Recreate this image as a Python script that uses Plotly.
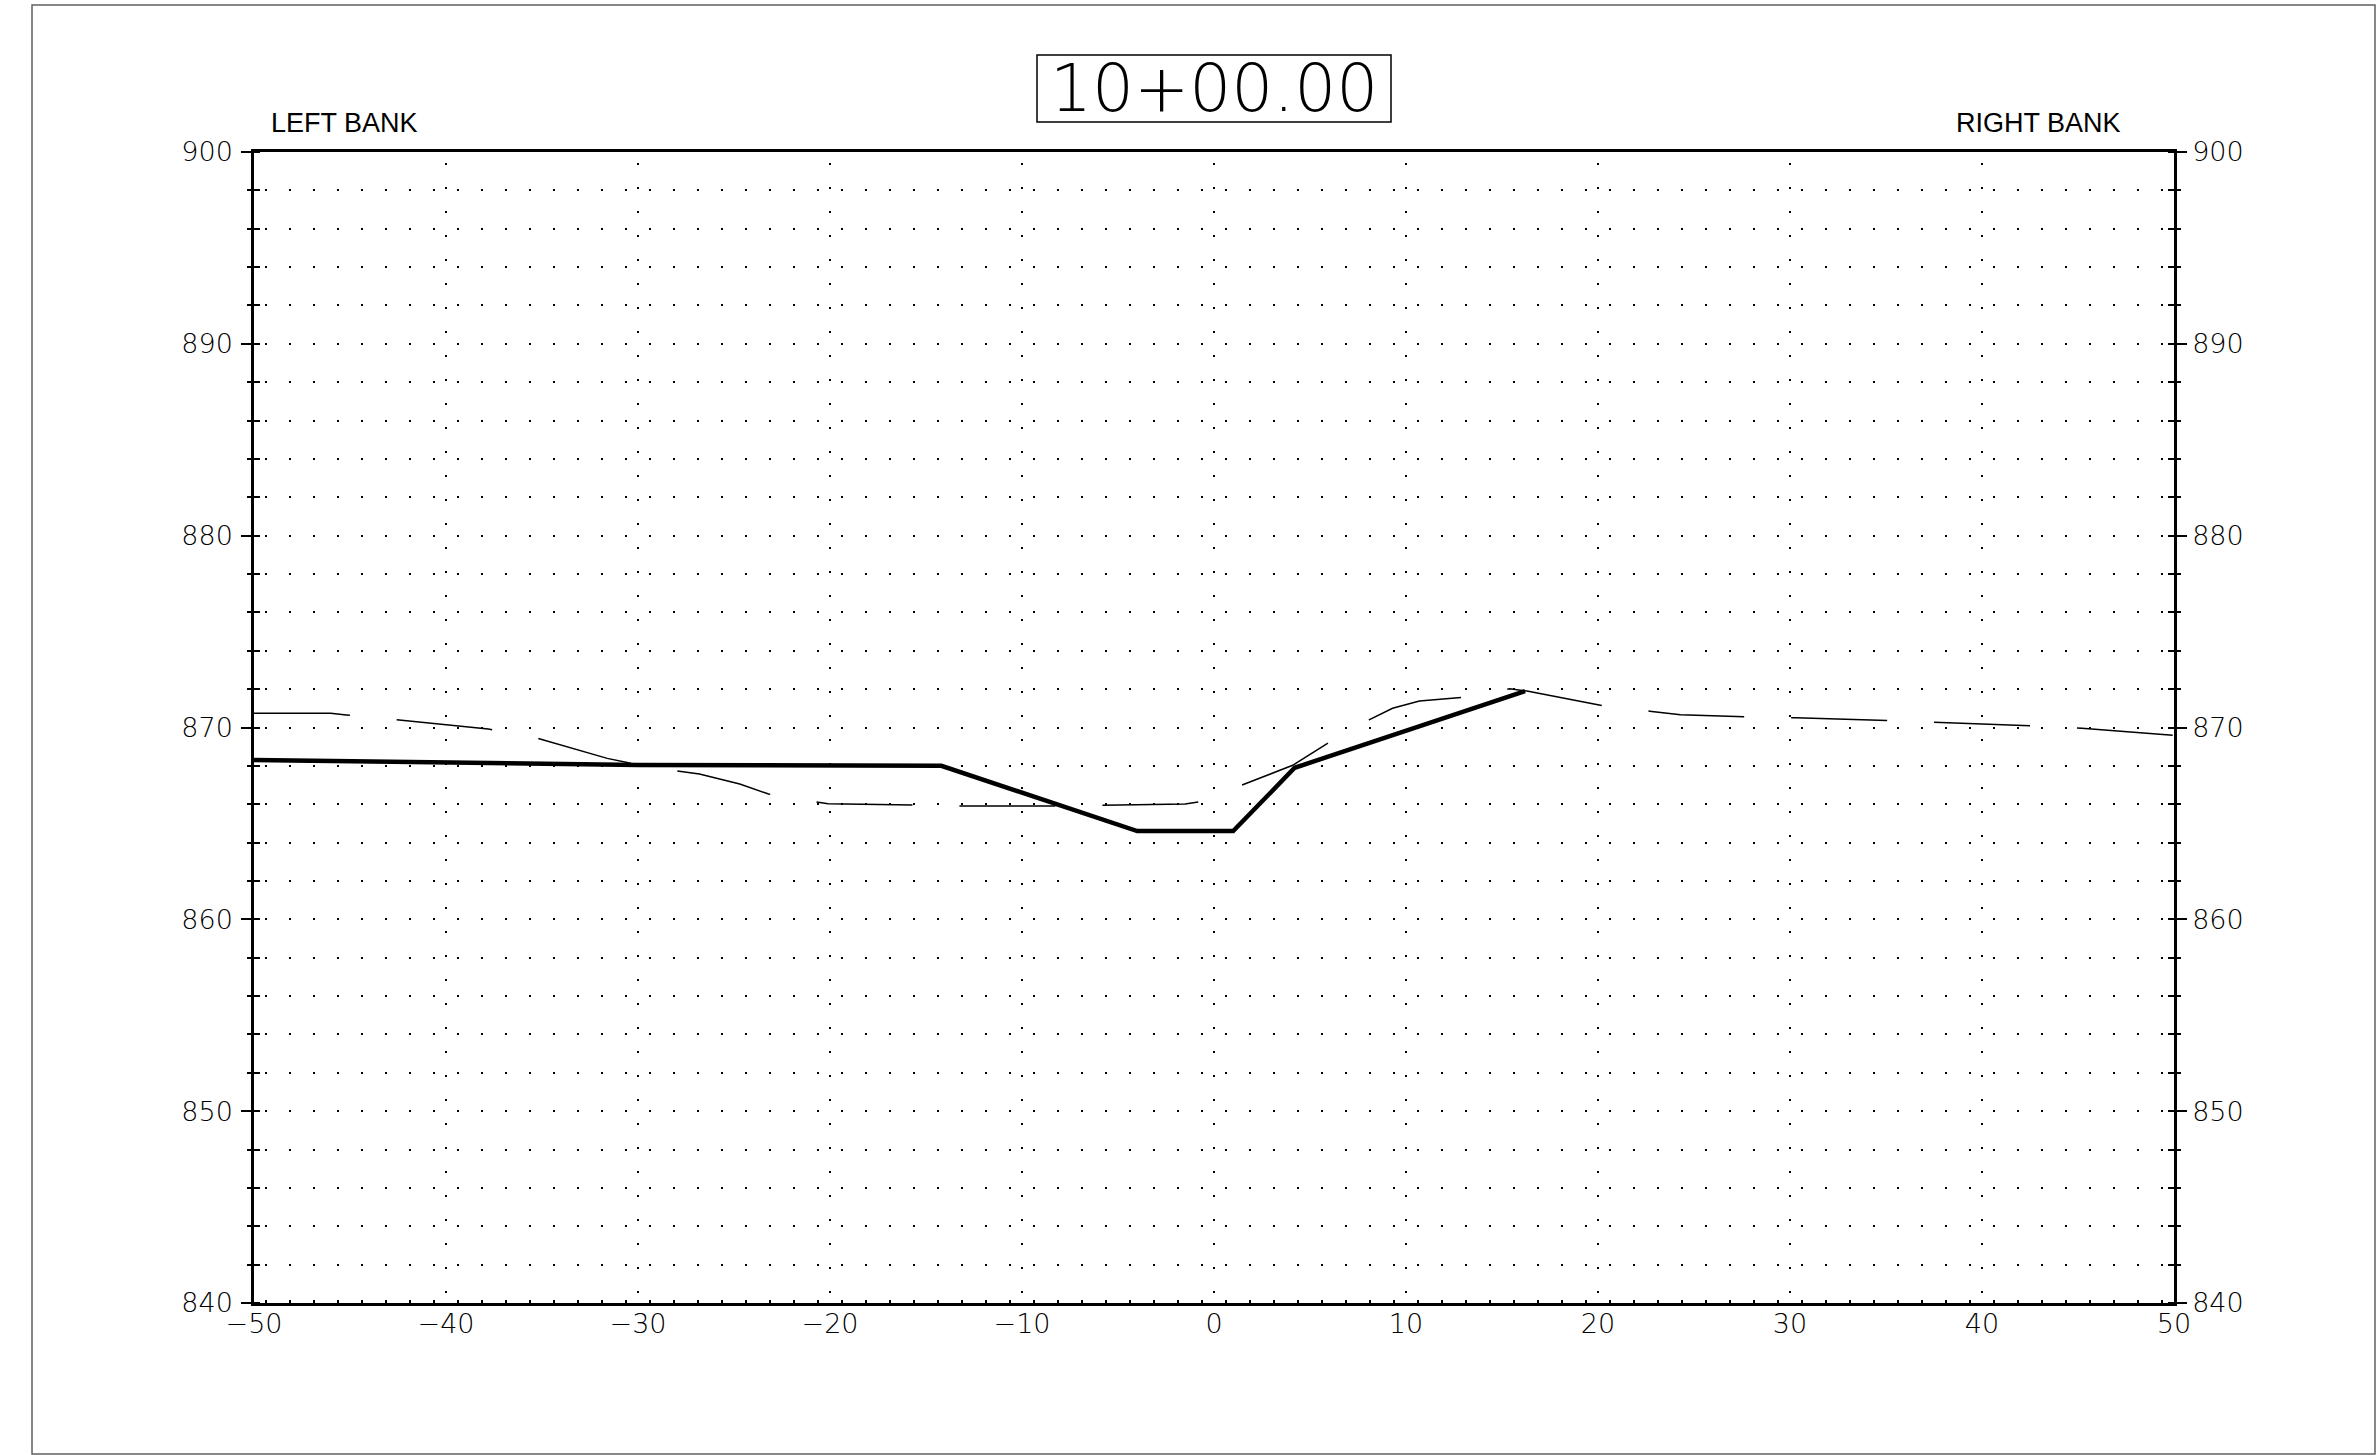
import plotly.graph_objects as go

# ---- data ----
station_label = "10+00.00"
left_label = "LEFT BANK"
right_label = "RIGHT BANK"

# proposed section (thick solid)
prop_x = [-50, -30, -14.2, -4.0, 1.0, 4.2, 16.2]
prop_y = [868.3, 868.05, 868.0, 864.6, 864.6, 867.9, 871.9]

# existing ground (thin long-dash)
exist_x = [-50, -46.0, -45.2, -42.8, -37.8, -35.4, -31.6, -30.5, -28.1, -26.8,
           -24.7, -23.2, -20.7, -20.1, -15.7, -13.3, -8.3, -5.8, -1.5, -0.8,
           1.5, 4.1, 6.0, 8.1, 9.3, 10.7, 12.9, 15.4, 16.3, 20.2,
           22.8, 24.3, 27.8, 30.3, 35.3, 37.8, 42.8, 45.2, 50]
exist_y = [870.74, 870.74, 870.65, 870.43, 869.92, 869.49, 868.39, 868.16, 867.75, 867.58,
           867.05, 866.53, 866.12, 866.03, 865.96, 865.91, 865.91, 865.94, 866.01, 866.12,
           867.02, 868.03, 869.23, 870.41, 871.0, 871.38, 871.57, 872.02, 871.9, 871.15,
           870.84, 870.67, 870.56, 870.51, 870.36, 870.27, 870.08, 869.96, 869.59]

x_range = [-50, 50]
y_range = [840, 900]

# ---- layout geometry (pixels) ----
W, H = 2379, 1455
L, R, T, B = 254, 2174, 152, 1303
PW, PH = R - L, B - T


def px(xp):
    return (xp - L) / PW


def py(yp):
    return (B - yp) / PH


TICK_FONT = dict(family="DejaVu Sans", size=27, color="black", weight=200)
DOTS = "0px,11px,2px,11px"

fig = go.Figure()

fig.add_trace(go.Scatter(
    x=exist_x, y=exist_y, mode="lines", yaxis="y",
    line=dict(color="black", width=1.5, dash="96px,47px"),
    hoverinfo="skip", showlegend=False))

fig.add_trace(go.Scatter(
    x=prop_x, y=prop_y, mode="lines", yaxis="y2",
    line=dict(color="black", width=4.5),
    hoverinfo="skip", showlegend=False))

# empty traces so that the tick-only overlay axes are drawn
fig.add_trace(go.Scatter(x=[], y=[], yaxis="y3", hoverinfo="skip", showlegend=False))
fig.add_trace(go.Scatter(x=[], y=[], yaxis="y4", hoverinfo="skip", showlegend=False))

fig.update_layout(
    width=W, height=H,
    margin=dict(l=L, r=W - R, t=T, b=H - B, pad=0),
    paper_bgcolor="white", plot_bgcolor="white",
    showlegend=False, hovermode=False,
    xaxis=dict(
        range=x_range, tick0=-50, dtick=10, showgrid=True,
        gridcolor="black", gridwidth=2, griddash=DOTS,
        showline=True, linecolor="black", linewidth=2.5, mirror=True,
        ticks="", tickfont=TICK_FONT, zeroline=False, ticklabelstandoff=-5,
        minor=dict(tick0=-48.125, dtick=1.25, ticks="inside", ticklen=3,
                   tickwidth=2, tickcolor="black", showgrid=False),
    ),
    yaxis=dict(
        range=y_range, tick0=840, dtick=10, side="left",
        showgrid=True, gridcolor="black", gridwidth=2, griddash=DOTS,
        showline=True, linecolor="black", linewidth=2.5,
        ticks="outside", ticklen=10, tickwidth=2, tickcolor="black",
        tickfont=TICK_FONT, zeroline=False, ticklabelstandoff=3,
        minor=dict(tick0=840, dtick=2, ticks="inside", ticklen=6, tickwidth=2,
                   tickcolor="black", showgrid=True, gridcolor="black",
                   gridwidth=2, griddash=DOTS),
    ),
    yaxis2=dict(
        range=y_range, tick0=840, dtick=10, overlaying="y", side="right",
        anchor="x", showgrid=False, zeroline=False,
        showline=True, linecolor="black", linewidth=2.5,
        ticks="outside", ticklen=10, tickwidth=2, tickcolor="black",
        tickfont=TICK_FONT,
        minor=dict(tick0=840, dtick=2, ticks="inside", ticklen=6, tickwidth=2,
                   tickcolor="black", showgrid=False),
    ),
    yaxis3=dict(
        range=y_range, tick0=840, dtick=2, overlaying="y", side="left",
        anchor="x", showgrid=False, zeroline=False, showline=False,
        ticks="outside", ticklen=6, tickwidth=2, tickcolor="black",
        showticklabels=False,
    ),
    yaxis4=dict(
        range=y_range, tick0=840, dtick=2, overlaying="y", side="right",
        anchor="x", showgrid=False, zeroline=False, showline=False,
        ticks="outside", ticklen=6, tickwidth=2, tickcolor="black",
        showticklabels=False,
    ),
)

# white strips hiding the dot-grid's first dot next to each frame edge
strip = 22
for (x0, x1, y0, y1) in [
    (0, px(L + strip), 0, 1),
    (px(R - strip), 1, 0, 1),
    (0, 1, py(T + strip), 1),
    (0, 1, 0, py(B - strip)),
]:
    fig.add_shape(type="rect", xref="paper", yref="paper",
                  x0=x0, x1=x1, y0=y0, y1=y1,
                  fillcolor="white", line=dict(width=0), layer="between")

# outer sheet border
fig.add_shape(type="rect", xref="paper", yref="paper",
              x0=px(32), x1=px(2375), y0=py(1454), y1=py(5),
              line=dict(color="#606060", width=1.5), layer="below")

# station box
fig.add_shape(type="rect", xref="paper", yref="paper",
              x0=px(1037), x1=px(1391), y0=py(122), y1=py(55),
              line=dict(color="black", width=1.5))

fig.add_annotation(text=station_label, xref="paper", yref="paper",
                   x=px(1214), y=py(89), xanchor="center", yanchor="middle",
                   showarrow=False,
                   font=dict(family="DejaVu Sans", size=66, color="black", weight=200))

fig.add_annotation(text=left_label, xref="paper", yref="paper",
                   x=px(269), y=py(123.5), xanchor="left", yanchor="middle",
                   showarrow=False,
                   font=dict(family="Liberation Sans, Arial", size=27, color="black"))

fig.add_annotation(text=right_label, xref="paper", yref="paper",
                   x=px(2123), y=py(123.5), xanchor="right", yanchor="middle",
                   showarrow=False,
                   font=dict(family="Liberation Sans, Arial", size=27, color="black"))

fig.write_html("out.html", config={"displayModeBar": False},
               post_script="document.body.style.margin='0';document.body.style.overflow='hidden';")
